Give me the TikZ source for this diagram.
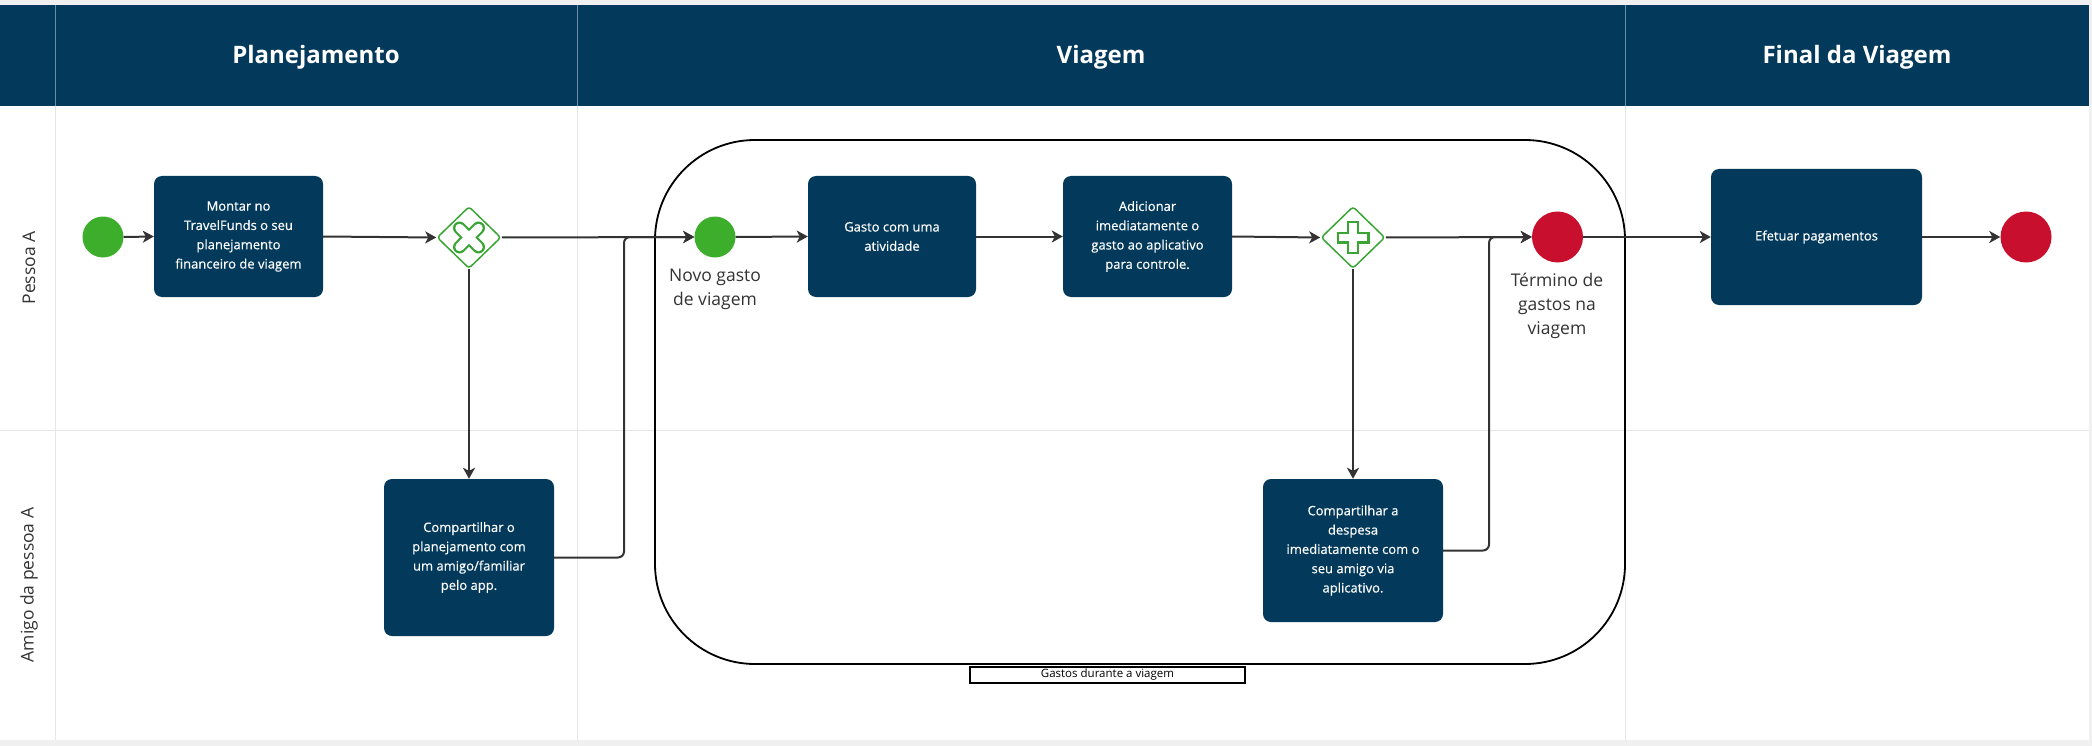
\documentclass[tikz,border=0pt]{standalone}
\usepackage{fontspec}
\setmainfont{Open Sans}
\newfontfamily\taskfont[FakeBold=0.45]{Open Sans}
\usetikzlibrary{shapes.geometric,arrows.meta}
\definecolor{navy}{HTML}{033A5C}
\definecolor{hdrline}{HTML}{6F8CA3}
\definecolor{gridc}{HTML}{E6E6E6}
\definecolor{outer}{HTML}{F0F0F0}
\definecolor{evgreen}{HTML}{3DAE2B}
\definecolor{evred}{HTML}{C8102E}
\definecolor{gwgreen}{HTML}{3AA535}
\definecolor{connc}{HTML}{333333}
\definecolor{lblc}{HTML}{333333}
\tikzset{
  task/.style={rectangle, rounded corners=8pt, fill=navy, draw=none, inner sep=0pt,
    text=white, align=center, font=\taskfont\fontsize{13}{19.3}\selectfont},
  startev/.style={circle, fill=evgreen, draw=none, minimum size=41pt, inner sep=0pt},
  endev/.style={circle, fill=evred, draw=none, minimum size=51pt, inner sep=0pt},
  gateway/.style={diamond, draw=gwgreen, line width=1.5pt, fill=white, rounded corners=3pt,
    minimum width=64pt, minimum height=62pt, inner sep=0pt},
  conn/.style={draw=connc, line width=2pt, -{Stealth[length=11pt,width=12pt,inset=3pt]}},
  hdr/.style={text=white, font=\fontsize{24}{28}\selectfont\bfseries},
  lane/.style={text=lblc, rotate=90, font=\fontsize{17.5}{21}\selectfont},
  evlabel/.style={text=lblc, align=center, font=\fontsize{17.5}{24}\selectfont},
}
\begin{document}
\begin{tikzpicture}[x=1pt,y=-1pt]
\useasboundingbox (0,0) rectangle (2092,746);
% background
\fill[outer] (0,0) rectangle (2092,746);
\fill[white] (0,5) rectangle (2089,740);
% header
\fill[navy] (0,5) rectangle (2089,106);
\draw[hdrline, line width=1pt] (55,5) -- (55,106) (577,5) -- (577,106) (1625,5) -- (1625,106);
% grid
\draw[gridc, line width=1pt] (55,106) -- (55,740) (577,106) -- (577,740) (1625,106) -- (1625,740)
  (0,430) -- (2089,430);
% header texts
\node[hdr] (hplan) at (316,57) {Planejamento};
\node[hdr] (hviag) at (1101,57) {Viagem};
\node[hdr] (hfinal) at (1857,57) {Final da Viagem};
% lane labels
\node[lane] (lane1) at (29,268) {Pessoa A};
\node[lane] (lane2) at (29,585) {Amigo da pessoa A};
% group box
\draw[black, line width=1.8pt, rounded corners=100pt] (655,140) rectangle (1625,664);
\node[draw=black, line width=1.5pt, fill=white, minimum width=275pt, minimum height=16pt, inner sep=0pt,
  font=\fontsize{11.5}{13}\selectfont, text=black] (grp) at (1107.5,675) {Gastos durante a viagem};
% nodes
\node[startev] (s1) at (103,237) {};
\node[task, minimum width=169pt, minimum height=121pt] (t1) at (238.5,236.5)
  {Montar no\\TravelFunds o seu\\planejamento\\financeiro de viagem};
\node[gateway] (g1) at (469,237.5) {};
\node[task, minimum width=170pt, minimum height=157pt] (t2) at (469,557.5)
  {Compartilhar o\\planejamento com\\um amigo/familiar\\pelo app.};
\node[startev] (s2) at (715,237) {};
\node[evlabel] (s2l) at (715,289) {Novo gasto\\de viagem};
\node[task, minimum width=168pt, minimum height=121pt] (t3) at (892,236.5)
  {Gasto com uma\\atividade};
\node[task, minimum width=169pt, minimum height=121pt] (t4) at (1147.5,236.5)
  {Adicionar\\imediatamente o\\gasto ao aplicativo\\para controle.};
\node[gateway] (g2) at (1353,237.5) {};
\node[task, minimum width=180pt, minimum height=143pt] (t5) at (1353,550.5)
  {\raisebox{-7pt}{\parbox{170pt}{\centering Compartilhar a\\despesa\\imediatamente com o\\seu amigo via\\aplicativo.}}};
\node[endev] (e1) at (1557.5,237) {};
\node[evlabel] (e1l) at (1557,306) {Término de\\gastos na\\viagem};
\node[task, minimum width=211pt, minimum height=136pt] (t6) at (1816.5,237) {Efetuar pagamentos};
\node[endev] (e2) at (2026,237) {};
% gateway icons
\begin{scope}[shift={(g1.center)}]
  \draw[gwgreen, line width=13pt, line cap=round] (-9.5,-9.5) -- (9.5,9.5) (-9.5,9.5) -- (9.5,-9.5);
  \draw[white, line width=8.5pt, line cap=round] (-9.5,-9.5) -- (9.5,9.5) (-9.5,9.5) -- (9.5,-9.5);
\end{scope}
\begin{scope}[shift={(g2.center)}]
  \draw[gwgreen, line width=12pt, line cap=butt] (-16.5,0) -- (16.5,0) (0,-16.5) -- (0,16.5);
  \draw[white, line width=7.5pt, line cap=butt] (-14.2,0) -- (14.2,0) (0,-14.2) -- (0,14.2);
\end{scope}
% connectors
\coordinate (j1) at (624,237);
\coordinate (j2) at (1489,237);
\draw[conn] (s1.east) -- (t1.west);
\draw[conn] (t1.east) -- (g1.west);
\draw[conn] (g1.east) -- (s2.west);
\draw[conn] (g1.south) -- (t2.north);
\draw[conn, rounded corners=6pt] (t2.east) -| (j1) -- (s2.west);
\draw[conn] (s2.east) -- (t3.west);
\draw[conn] (t3.east) -- (t4.west);
\draw[conn] (t4.east) -- (g2.west);
\draw[conn] (g2.east) -- (e1.west);
\draw[conn] (g2.south) -- (t5.north);
\draw[conn, rounded corners=6pt] (t5.east) -| (j2) -- (e1.west);
\draw[conn] (e1.east) -- (t6.west);
\draw[conn] (t6.east) -- (e2.west);
\end{tikzpicture}
\end{document}
